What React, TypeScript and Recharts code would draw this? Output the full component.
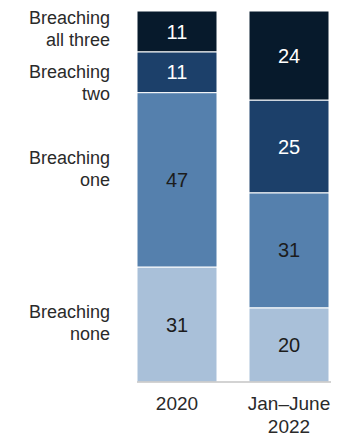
import { Bar, BarChart, LabelList, XAxis, YAxis } from 'recharts'

const periods = ['2020', 'Jan–June 2022']
const breachingNone = [31, 20]
const breachingOne = [47, 31]
const breachingTwo = [11, 25]
const breachingAllThree = [11, 24]

const series = [
  { key: 'none', name: 'Breaching none', values: breachingNone, fill: '#a9c0d9', text: '#1c1c1c', nudge: -2 },
  { key: 'one', name: 'Breaching one', values: breachingOne, fill: '#5580ad', text: '#1c1c1c', nudge: -12 },
  { key: 'two', name: 'Breaching two', values: breachingTwo, fill: '#1c406a', text: '#ffffff', nudge: 10 },
  { key: 'three', name: 'Breaching all three', values: breachingAllThree, fill: '#071a2c', text: '#ffffff', nudge: -3 },
]

const data = periods.map((period, i) => {
  const row: Record<string, string | number> = { period }
  series.forEach((s) => {
    row[s.key] = s.values[i]
  })
  return row
})

const font = '"Liberation Sans", Arial, sans-serif'

function PeriodTick({ x, y, payload }: any) {
  const text = String(payload.value)
  const lines = text === '2020' ? [text] : ['Jan–June', '2022']
  return (
    <text x={x} y={y} textAnchor="middle" fontSize={19} fill="#2a2a2a" fontFamily={font}>
      {lines.map((l, i) => (
        <tspan key={l} x={x} dy={i === 0 ? 20 : 23}>
          {l}
        </tspan>
      ))}
    </text>
  )
}

function seriesLabel(name: string, nudge: number) {
  return (props: any) => {
    const { x, y, height, index } = props
    if (index !== 0) return null
    const rest = name.replace('Breaching ', '')
    const cy = Number(y) + Number(height) / 2 + nudge
    return (
      <text x={Number(x) - 27} y={cy - 4} textAnchor="end" fontSize={18} fill="#2a2a2a" fontFamily={font}>
        <tspan x={Number(x) - 27}>Breaching</tspan>
        <tspan x={Number(x) - 27} dy={22}>
          {rest}
        </tspan>
      </text>
    )
  }
}

export default function App() {
  return (
    <div style={{ width: 344, height: 437, background: '#fff' }}>
      <style>{'body{margin:0}'}</style>
      <BarChart
        width={344}
        height={437}
        data={data}
        margin={{ top: 11, right: 13, bottom: 0, left: 137 }}
        barSize={80}
      >
        <XAxis
          dataKey="period"
          padding={{ left: -16, right: -14 }}
          axisLine={{ stroke: '#c4c4c4', strokeWidth: 1.5 }}
          tickLine={false}
          tick={<PeriodTick />}
          height={55}
          interval={0}
        />
        <YAxis hide domain={[0, 100]} />
        {series.map((s) => (
          <Bar
            key={s.key}
            dataKey={s.key}
            name={s.name}
            stackId="a"
            fill={s.fill}
            stroke="#ffffff"
            strokeWidth={1}
            isAnimationActive={false}
          >
            <LabelList
              dataKey={s.key}
              position="center"
              fill={s.text}
              fontSize={20}
              fontFamily={font}
            />
            <LabelList dataKey={s.key} content={seriesLabel(s.name, s.nudge)} />
          </Bar>
        ))}
      </BarChart>
    </div>
  )
}
